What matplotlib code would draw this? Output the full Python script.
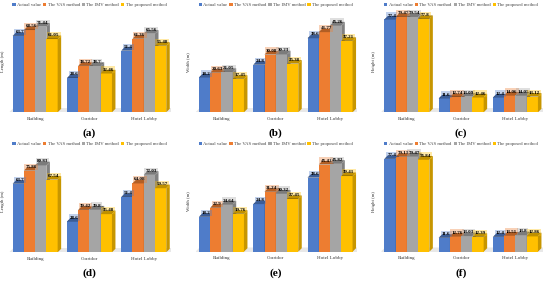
from matplotlib import pyplot as plt
from matplotlib.colors import to_rgb

categories = ["Building", "Corridor", "Hotel Lobby"]
methods = ["Actual value", "The VAS method", "The IMV method", "The proposed method"]
colors = ["#4f7cc9", "#ed7d31", "#a5a5a5", "#ffc000"]

actual_length = [63.7, 28.6, 51.4]
actual_width = [18.2, 24.8, 38.6]
actual_height = [77.4, 11.6, 12.4]

a_values = [actual_length, [68.56, 38.72, 61.36], [71.44, 38.7, 65.56], [61.05, 32.46, 55.48]]
b_values = [actual_width, [20.63, 30.08, 41.77], [21.05, 30.23, 45.26], [17.45, 25.38, 37.21]]
c_values = [actual_height, [79.47, 12.74, 14.06], [79.54, 13.09, 14.05], [77.8, 12.46, 13.12]]
d_values = [actual_length, [75.86, 39.42, 64.08], [80.83, 39.8, 72.03], [67.54, 35.48, 59.57]]
e_values = [actual_width, [22.9, 31.24, 45.41], [24.64, 30.32, 45.82], [19.76, 27.45, 39.41]]
f_values = [actual_height, [79.13, 12.76, 13.51], [79.47, 13.03, 13.8], [76.84, 12.39, 12.86]]

W, H = 550, 281
PITCH = 54.3
AX_W = PITCH * 3
DEPTH = 3.5
BAR_W = 11.25 / PITCH

plt.rcParams["font.family"] = ["Liberation Serif", "DejaVu Serif"]
plt.rcParams["font.size"] = 3.5

fig = plt.figure(figsize=(5.5, 2.81), dpi=100)


def darker(color, k):
    r, g, b = to_rgb(color)
    return (r * k, g * k, b * k)


def draw_panel(values, ylabel, letter, left, top, base, px_per_unit, ylabel_x):
    ax = fig.add_axes([left / W, 1 - base / H, AX_W / W, (base - top) / H])
    ax.set_xlim(-0.5, 2.5)
    ax.set_ylim(0, (base - top) / px_per_unit)
    ax.patch.set_alpha(0)
    for s in ax.spines.values():
        s.set_visible(False)

    dx = DEPTH / PITCH
    dy = DEPTH / px_per_unit

    # floor
    fx0 = -2 * BAR_W - 2.5 / PITCH
    fx1 = 2 + 2 * BAR_W + 8 / PITCH
    ax.fill([fx0, fx1 - dx, fx1, fx0 + dx], [0, 0, dy, dy], color="#e8e8e8", zorder=1)

    z = 2
    for g in range(len(categories)):
        for m in range(len(methods)):
            v = values[m][g]
            x = g + (m - 2) * BAR_W
            col = colors[m]
            ax.bar(x, v, BAR_W, align="edge", color=col, label=methods[m] if g == 0 else None, zorder=z)
            ax.fill([x + BAR_W, x + BAR_W + dx, x + BAR_W + dx, x + BAR_W],
                    [0, dy, v + dy, v], color=darker(col, 0.78), lw=0, zorder=z)
            ax.fill([x, x + BAR_W, x + BAR_W + dx, x + dx],
                    [v, v, v + dy, v + dy], color=darker(col, 0.62), lw=0, zorder=z)
            z += 1
    for g in range(len(categories)):
        for m in range(len(methods)):
            v = values[m][g]
            x = g + (m - 2) * BAR_W
            ax.text(x + BAR_W / 2 + dx / 2, v + dy + 0.3 / px_per_unit, str(v), ha="center", va="center",
                    fontsize=3.6, fontweight="bold", color="black", zorder=100,
                    bbox=dict(boxstyle="square,pad=0.25", fc=colors[m], ec="none", alpha=0.35))

    ax.set_xticks(range(len(categories)))
    ax.set_xticklabels(categories, fontsize=3.6, color="#333333")
    ax.tick_params(axis="x", length=0, pad=3.2)
    ax.set_yticks([])
    ax.set_ylabel(ylabel, fontsize=3.4, color="#333333")
    ax.yaxis.set_label_coords((ylabel_x - left) / AX_W, 0.47)

    ax.legend(loc="center", bbox_to_anchor=(0.5, 1.0), ncol=4, frameon=False, fontsize=3.45,
              labelcolor="#444444", handlelength=0.7, handleheight=0.7, handletextpad=0.25,
              columnspacing=0.4, borderpad=0, borderaxespad=0)

    ax.text(0.5, 1 - (base + 21 - top) / (base - top), letter, transform=ax.transAxes, ha="center", va="center",
            fontsize=8.2, fontweight="bold", color="black")


draw_panel(a_values, "Length (m)", "(a)", 8.0, 4.7, 112.3, 1.2, 5.3)
draw_panel(b_values, "Width (m)", "(b)", 194.3, 4.7, 112.3, 1.92, 190)
draw_panel(c_values, "Height (m)", "(c)", 379.7, 4.7, 112.3, 1.2, 376)
draw_panel(d_values, "Length (m)", "(d)", 8.0, 144.3, 252.3, 1.077, 5.3)
draw_panel(e_values, "Width (m)", "(e)", 194.3, 144.3, 251.7, 1.92, 190)
draw_panel(f_values, "Height (m)", "(f)", 379.7, 144.3, 251.7, 1.2, 376)

fig.savefig("out.png", dpi=100)
